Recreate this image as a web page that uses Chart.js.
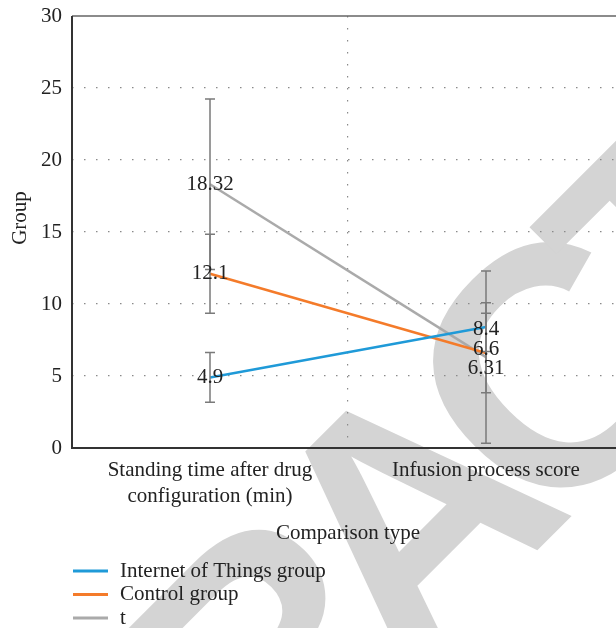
<!DOCTYPE html>
<html>
<head>
<meta charset="utf-8">
<script src="https://cdn.jsdelivr.net/npm/chart.js@4/dist/chart.umd.min.js"></script>
<style>
  html, body { margin:0; padding:0; background:#fff; width:616px; height:628px; overflow:hidden; }
  #wrap { width:640px; height:628px; }
</style>
</head>
<body>
<div id="wrap"><canvas id="chartCanvas" width="640" height="628"></canvas></div>
<script>
(function(){
'use strict';

// Datos
const categories   = [['Standing time after drug', 'configuration (min)'], 'Infusion process score'];
const seriesNames  = ['Internet of Things group', 'Control group', 't'];
const iotValues    = [4.9, 8.4];
const iotErr       = [1.73, 1.69];
const controlValues= [12.1, 6.6];
const controlErr   = [2.74, 2.76];
const tValues      = [18.32, 6.31];
const tErr         = [5.92, 5.98];
const yTicks       = [0, 5, 10, 15, 20, 25, 30];
const xTitle       = 'Comparison type';
const yTitle       = 'Group';
const watermark    = 'RETRACTED';

const colors = ['#1f9ad8', '#f47b2a', '#aaaaaa'];
const SERIF = '"Liberation Serif", "DejaVu Serif", serif';
const FONT = '21px ' + SERIF;

// pequeños ajustes de etiquetas que se solapan (dataset-punto) -> dy px
const labelNudge = { '0-1': 2, '1-1': -3, '2-1': 11 };

const extras = {
  id: 'extras',
  beforeDraw(chart){
    const ctx = chart.ctx;
    ctx.save();
    ctx.fillStyle = '#fff';
    ctx.fillRect(0, 0, chart.width, chart.height);
    // marca de agua
    ctx.translate(410, 545);
    ctx.rotate(-45 * Math.PI / 180);
    ctx.font = 'bold 340px "Liberation Sans", Arial, sans-serif';
    ctx.letterSpacing = '-42px';
    ctx.fillStyle = '#d4d4d4';
    ctx.textAlign = 'center';
    ctx.textBaseline = 'middle';
    ctx.fillText(watermark, 0, 0);
    ctx.restore();
  },
  afterDatasetsDraw(chart){
    const ctx = chart.ctx;
    const y = chart.scales.y;
    const errs = [iotErr, controlErr, tErr];
    ctx.save();
    ctx.strokeStyle = '#7a7a7a';
    ctx.lineWidth = 1.5;
    chart.data.datasets.forEach((ds, di) => {
      chart.getDatasetMeta(di).data.forEach((pt, i) => {
        const v = ds.data[i], e = errs[di][i];
        const top = y.getPixelForValue(v + e), bot = y.getPixelForValue(v - e);
        ctx.beginPath();
        ctx.moveTo(pt.x, top); ctx.lineTo(pt.x, bot);
        ctx.moveTo(pt.x - 5, top); ctx.lineTo(pt.x + 5, top);
        ctx.moveTo(pt.x - 5, bot); ctx.lineTo(pt.x + 5, bot);
        ctx.stroke();
      });
    });
    ctx.restore();
  },
  afterDraw(chart){
    const ctx = chart.ctx;
    const a = chart.chartArea;
    const x = chart.scales.x;
    ctx.save();
    // marco
    ctx.lineWidth = 1.5;
    ctx.strokeStyle = '#666';
    ctx.beginPath();
    ctx.moveTo(a.left, a.top); ctx.lineTo(a.right, a.top); ctx.lineTo(a.right, a.bottom);
    ctx.stroke();
    ctx.lineWidth = 2;
    ctx.strokeStyle = '#333';
    ctx.beginPath();
    ctx.moveTo(a.left, a.top); ctx.lineTo(a.left, a.bottom); ctx.lineTo(a.right, a.bottom);
    ctx.stroke();

    // etiquetas de datos
    ctx.font = FONT;
    ctx.fillStyle = '#222';
    ctx.textAlign = 'center';
    ctx.textBaseline = 'middle';
    chart.data.datasets.forEach((ds, di) => {
      chart.getDatasetMeta(di).data.forEach((pt, i) => {
        const dy = labelNudge[di + '-' + i] || 0;
        ctx.fillText(String(ds.data[i]), pt.x, pt.y + dy);
      });
    });

    // etiquetas del eje x
    chart.data.labels.forEach((lab, i) => {
      const lines = Array.isArray(lab) ? lab : [lab];
      const px = x.getPixelForValue(i);
      lines.forEach((t, j) => ctx.fillText(t, px, a.bottom + 22 + j * 26));
    });
    ctx.fillText(xTitle, (a.left + a.right) / 2, a.bottom + 85);

    // titulo eje y
    ctx.save();
    ctx.translate(20, 218);
    ctx.rotate(-Math.PI / 2);
    ctx.fillText(yTitle, 0, 0);
    ctx.restore();

    // leyenda
    ctx.textAlign = 'left';
    ctx.lineWidth = 3;
    chart.data.datasets.forEach((ds, di) => {
      const ly = a.bottom + 123 + di * 23.5;
      ctx.strokeStyle = ds.borderColor;
      ctx.beginPath();
      ctx.moveTo(73, ly); ctx.lineTo(108, ly);
      ctx.stroke();
      ctx.fillText(ds.label, 120, ly);
    });
    ctx.restore();
  }
};

const ctx = document.getElementById('chartCanvas').getContext('2d');
new Chart(ctx, {
  type: 'line',
  data: {
    labels: categories,
    datasets: [
      { label: seriesNames[0], data: iotValues,     borderColor: colors[0], borderWidth: 2.5, pointRadius: 0, tension: 0 },
      { label: seriesNames[1], data: controlValues, borderColor: colors[1], borderWidth: 2.5, pointRadius: 0, tension: 0 },
      { label: seriesNames[2], data: tValues,       borderColor: colors[2], borderWidth: 2.5, pointRadius: 0, tension: 0 }
    ]
  },
  options: {
    responsive: false,
    animation: false,
    devicePixelRatio: 1,
    layout: { padding: { top: 16, right: 16, bottom: 180, left: 0 } },
    plugins: { legend: { display: false }, tooltip: { enabled: false } },
    scales: {
      x: {
        offset: true,
        grid: { offset: true, color: '#8a8a8a', lineWidth: 1.2, drawTicks: false },
        border: { display: false, dash: [1.5, 10.5] },
        ticks: { display: false }
      },
      y: {
        min: 0, max: 30,
        afterFit: s => { s.width = 72; s.paddingTop = 0; s.paddingBottom = 0; },
        afterBuildTicks: s => { s.ticks = yTicks.map(v => ({ value: v })); },
        grid: {
          drawTicks: false, lineWidth: 1.2,
          color: c => (c.tick && (c.tick.value === 0 || c.tick.value === 30)) ? 'rgba(0,0,0,0)' : '#8a8a8a'
        },
        border: { display: false, dash: [1.5, 10.5] },
        ticks: { padding: 10, color: '#222', font: { family: SERIF, size: 21 } }
      }
    }
  },
  plugins: [extras]
});

})();
</script>
</body>
</html>
